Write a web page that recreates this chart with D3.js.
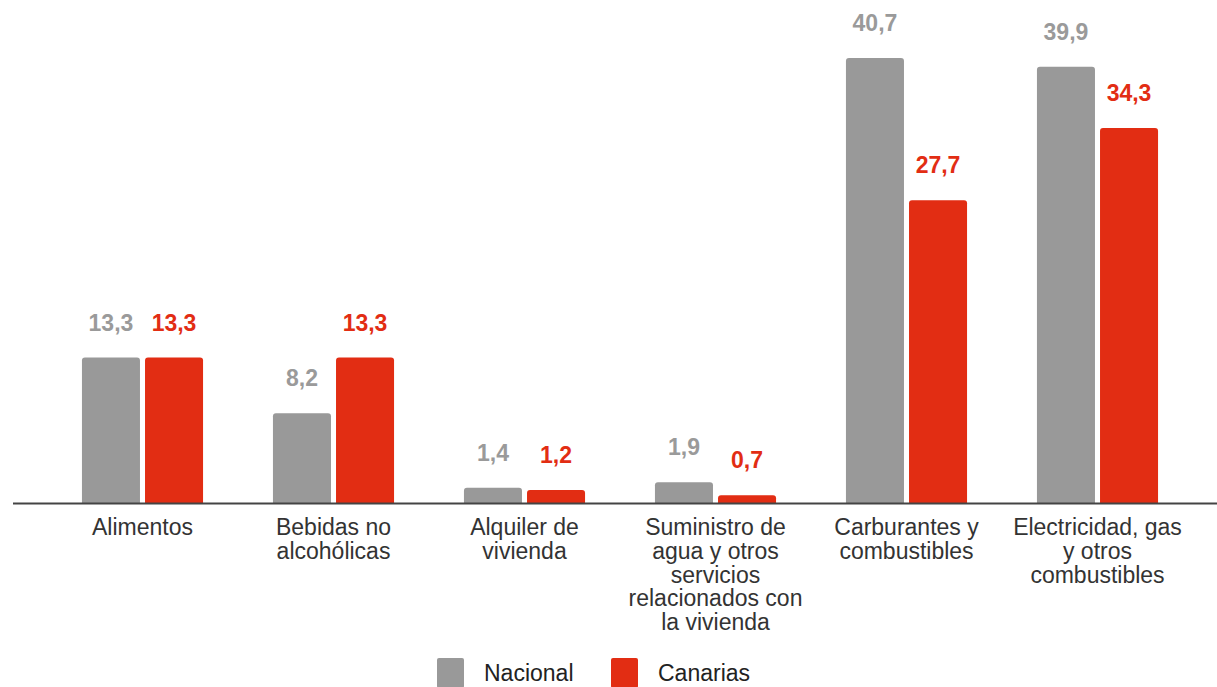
<!DOCTYPE html>
<html>
<head>
<meta charset="utf-8">
<script src="https://cdn.jsdelivr.net/npm/d3@7"></script>
<style>
  body { margin: 0; background: #fff; }
  svg { display: block; font-family: "Liberation Sans", Arial, sans-serif; }
</style>
</head>
<body>
<div id="chart"></div>
<script>
var categories = [
  ["Alimentos"],
  ["Bebidas no", "alcohólicas"],
  ["Alquiler de", "vivienda"],
  ["Suministro de", "agua y otros", "servicios", "relacionados con", "la vivienda"],
  ["Carburantes y", "combustibles"],
  ["Electricidad, gas", "y otros", "combustibles"]
];
var nacional = [13.3, 8.2, 1.4, 1.9, 40.7, 39.9];
var canarias = [13.3, 13.3, 1.2, 0.7, 27.7, 34.3];
var seriesNames = ["Nacional", "Canarias"];

var width = 1217, height = 687,
    baseY = 503;

var color = d3.scaleOrdinal().domain(seriesNames).range(["#999999", "#e22d13"]);
var labelColor = d3.scaleOrdinal().domain(seriesNames).range(["#9a9a9a", "#e22d13"]);

var x0 = d3.scaleBand()
    .domain(d3.range(categories.length))
    .range([47, 1193])
    .paddingInner(0.366)
    .paddingOuter(0.183);

var x1 = d3.scaleBand()
    .domain(seriesNames)
    .range([0, x0.bandwidth()])
    .paddingInner(0.08);

var y = d3.scaleLinear()
    .domain([0, 40.7])
    .range([baseY, 58]);

var svg = d3.select("#chart").append("svg")
    .attr("width", width)
    .attr("height", height);

var rows = categories.map(function(c, i) {
  return { i: i, values: [
    { key: "Nacional", value: nacional[i] },
    { key: "Canarias", value: canarias[i] }
  ]};
});

var fmt = function(v) { return d3.format(".1f")(v).replace(".", ","); };

function topRounded(x, yTop, w, h, r) {
  r = Math.min(r, h, w / 2);
  return "M" + x + "," + (yTop + h) +
    "V" + (yTop + r) +
    "Q" + x + "," + yTop + " " + (x + r) + "," + yTop +
    "H" + (x + w - r) +
    "Q" + (x + w) + "," + yTop + " " + (x + w) + "," + (yTop + r) +
    "V" + (yTop + h) + "Z";
}

var group = svg.selectAll(".group")
    .data(rows)
  .enter().append("g")
    .attr("class", "group")
    .attr("transform", function(d) { return "translate(" + x0(d.i) + ",0)"; });

group.selectAll("path")
    .data(function(d) { return d.values; })
  .enter().append("path")
    .attr("d", function(d) {
      return topRounded(x1(d.key), y(d.value), x1.bandwidth(), baseY - y(d.value), 3);
    })
    .attr("fill", function(d) { return color(d.key); });

group.selectAll("text.value")
    .data(function(d) { return d.values; })
  .enter().append("text")
    .attr("class", "value")
    .attr("x", function(d) { return x1(d.key) + x1.bandwidth() / 2; })
    .attr("y", function(d) { return y(d.value) - 27; })
    .attr("text-anchor", "middle")
    .attr("font-size", 23)
    .attr("font-weight", "bold")
    .attr("fill", function(d) { return labelColor(d.key); })
    .text(function(d) { return fmt(d.value); });

// baseline
svg.append("line")
    .attr("x1", 13)
    .attr("x2", width)
    .attr("y1", baseY + 0.5)
    .attr("y2", baseY + 0.5)
    .attr("stroke", "#444")
    .attr("stroke-width", 2);

// category labels
var cat = svg.selectAll(".cat")
    .data(categories)
  .enter().append("text")
    .attr("class", "cat")
    .attr("text-anchor", "middle")
    .attr("font-size", 23)
    .attr("fill", "#333")
    .attr("transform", function(d, i) {
      return "translate(" + (x0(i) + x0.bandwidth() / 2) + "," + 535 + ")";
    });

cat.selectAll("tspan")
    .data(function(d) { return d; })
  .enter().append("tspan")
    .attr("x", 0)
    .attr("y", function(d, j) { return j * 23.8; })
    .text(function(d) { return d; });

// legend
var legendX = [437, 611];
var legend = svg.selectAll(".legend")
    .data(seriesNames)
  .enter().append("g")
    .attr("class", "legend")
    .attr("transform", function(d, i) { return "translate(" + legendX[i] + ",658)"; });

legend.append("rect")
    .attr("width", 27)
    .attr("height", 30)
    .attr("rx", 2)
    .attr("fill", function(d) { return color(d); });

legend.append("text")
    .attr("x", 47)
    .attr("y", 23)
    .attr("font-size", 23)
    .attr("fill", "#222")
    .text(function(d) { return d; });
</script>
</body>
</html>
